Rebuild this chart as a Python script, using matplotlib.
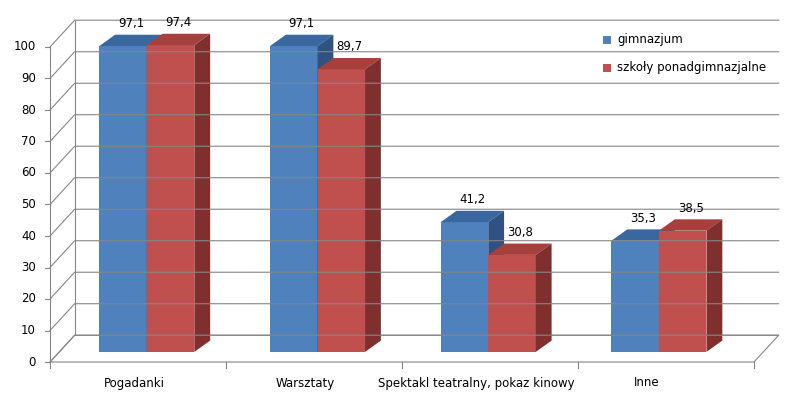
import matplotlib
matplotlib.use("Agg")
import matplotlib.pyplot as plt
from matplotlib.patches import Polygon

categories = ["Pogadanki", "Warsztaty", "Spektakl teatralny, pokaz kinowy", "Inne"]
gimnazjum = [97.1, 97.1, 41.2, 35.3]
ponadgim = [97.4, 89.7, 30.8, 38.5]
series_names = ["gimnazjum", "szkoły ponadgimnazjalne"]
yticks = list(range(0, 101, 10))

W, H = 793, 401
fig = plt.figure(figsize=(W / 100, H / 100), dpi=100)
px_per_x, x0px = 176.0, 50.0
px_per_y, y0px = 3.15, 362.0
xl = (0 - x0px) / px_per_x, (W - x0px) / px_per_x
yl = (y0px - H) / px_per_y, y0px / px_per_y
ax = fig.add_axes([0, 0, 1, 1])
ax.set_xlim(*xl); ax.set_ylim(*yl); ax.axis("off")

dxw, dyw = 0.14, 8.5   # wall depth
dxb, dyb = 0.09, 3.6   # bar depth
base = 3.2             # bars sit mid-depth on the floor
step = 0.97            # category spacing for bars and labels
grid = "#868686"
n = len(categories)

ax.add_patch(Polygon([(0, 0), (n, 0), (n + dxw, dyw), (dxw, dyw)], closed=True,
                     facecolor="white", edgecolor=grid, lw=0.8))
for v in yticks:
    ax.plot([0, dxw, n + dxw], [v, v + dyw, v + dyw], color=grid, lw=0.8)
    ax.plot([-0.03, 0], [v, v], color=grid, lw=0.8)
    ax.text(-0.08, v, str(v), ha="right", va="center", fontsize=8.5)
ax.plot([0, 0], [0, 100], color=grid, lw=0.8)
ax.plot([dxw, dxw], [dyw, 100 + dyw], color=grid, lw=0.8)
for i in range(n + 1):
    ax.plot([i, i], [0, -2], color=grid, lw=0.8)

bw = 0.27
styles = [("#4F81BD", "#3B67A0", "#2F5280"), ("#C0504D", "#A5403D", "#7F302E")]

def bar(x, h, cols):
    f, t, s = cols
    b, top = base, base + h
    ax.add_patch(Polygon([(x, b), (x + bw, b), (x + bw, top), (x, top)], closed=True, fc=f, ec="none"))
    ax.add_patch(Polygon([(x, top), (x + bw, top), (x + bw + dxb, top + dyb), (x + dxb, top + dyb)], closed=True, fc=t, ec="none"))
    ax.add_patch(Polygon([(x + bw, b), (x + bw + dxb, b + dyb), (x + bw + dxb, top + dyb), (x + bw, top)], closed=True, fc=s, ec="none"))
    ax.text(x + bw / 2 + dxb / 2, top + dyb + 1.5, f"{h:.1f}".replace(".", ","), ha="center", va="bottom", fontsize=8.5)

for i in range(n):
    bar(i * step + 0.28, gimnazjum[i], styles[0])
    bar(i * step + 0.28 + bw, ponadgim[i], styles[1])
    ax.text(i * step + 0.48, (y0px - 383) / px_per_y, categories[i], ha="center", va="center", fontsize=8.5)

for k, name in enumerate(series_names):
    yp = 40 + 28 * k
    ax.add_patch(Polygon([((603 - x0px) / px_per_x, (y0px - yp - 4) / px_per_y),
                          ((611 - x0px) / px_per_x, (y0px - yp - 4) / px_per_y),
                          ((611 - x0px) / px_per_x, (y0px - yp + 4) / px_per_y),
                          ((603 - x0px) / px_per_x, (y0px - yp + 4) / px_per_y)],
                         closed=True, fc=styles[k][0], ec="none"))
    ax.text((617 - x0px) / px_per_x, (y0px - yp) / px_per_y, name, ha="left", va="center", fontsize=8.5)

fig.savefig("out.png", dpi=100)
